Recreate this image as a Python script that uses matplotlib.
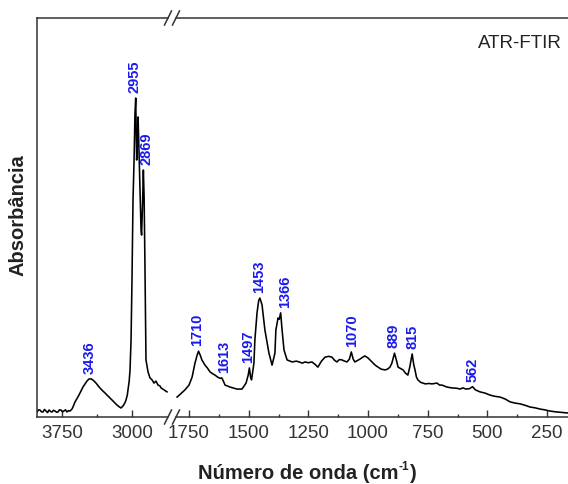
import numpy as np
import matplotlib
matplotlib.use("Agg")
import matplotlib.pyplot as plt
from matplotlib.ticker import MultipleLocator, FixedLocator
from matplotlib.lines import Line2D

plt.rcParams['font.family'] = ['Liberation Sans', 'DejaVu Sans']

# ---- spectrum, high-wavenumber segment (cm^-1, absorbance a.u.) ----
wn_high = [4018, 4000, 3986, 3970, 3954, 3938, 3921, 3905, 3889, 3873, 3857, 3841,
           3825, 3809, 3793, 3777, 3761, 3745, 3729, 3713, 3696, 3680, 3664, 3643,
           3627, 3611, 3590, 3568, 3547, 3525, 3503, 3482, 3461, 3436, 3410, 3386,
           3365, 3343, 3316, 3289, 3268, 3246, 3225, 3203, 3182, 3161, 3140, 3118,
           3096, 3075, 3064, 3050, 3043, 3030, 3021, 3010, 3000, 2989, 2978, 2968,
           2960, 2955, 2950, 2940, 2935, 2925, 2914, 2903, 2897, 2885, 2878, 2870,
           2862, 2855, 2850, 2828, 2807, 2785, 2764, 2743, 2721, 2700, 2689, 2657, 2625]
abs_high = [0.0125, 0.018, 0.0175, 0.013, 0.0125, 0.019, 0.015, 0.011, 0.0175, 0.014,
            0.0125, 0.017, 0.015, 0.012, 0.0125, 0.018, 0.0175, 0.013, 0.015, 0.018,
            0.0125, 0.016, 0.015, 0.020, 0.028, 0.0376, 0.046, 0.0551, 0.065, 0.0752,
            0.083, 0.0902, 0.0952, 0.0955, 0.091, 0.0852, 0.079, 0.0727, 0.066, 0.0602,
            0.055, 0.0501, 0.045, 0.0401, 0.035, 0.0301, 0.026, 0.0226, 0.0276, 0.036,
            0.0426, 0.055, 0.0677, 0.090, 0.1178, 0.193, 0.343, 0.544, 0.640, 0.760,
            0.7995, 0.720, 0.644, 0.700, 0.752, 0.669, 0.569, 0.470, 0.456, 0.550,
            0.619, 0.550, 0.400, 0.250, 0.143, 0.113, 0.098, 0.093, 0.085, 0.090,
            0.080, 0.078, 0.073, 0.068, 0.063]

# ---- spectrum, fingerprint segment ----
wn_low = [1800, 1785, 1767, 1750, 1737, 1725, 1716, 1710, 1703, 1696, 1683, 1672,
          1662, 1650, 1641, 1630, 1620, 1613, 1606, 1599, 1578, 1560, 1549, 1528,
          1511, 1502, 1497, 1492, 1488, 1478, 1474, 1465, 1458, 1453, 1444, 1432,
          1415, 1402, 1390, 1386, 1377, 1372, 1366, 1360, 1352, 1339, 1318, 1300,
          1289, 1275, 1264, 1250, 1235, 1222, 1210, 1195, 1180, 1165, 1151, 1140,
          1130, 1120, 1109, 1098, 1088, 1078, 1070, 1062, 1055, 1034, 1022, 1013,
          1000, 983, 970, 958, 945, 929, 918, 908, 900, 889, 880, 874, 865, 853,
          843, 833, 825, 815, 808, 803, 797, 791, 780, 770, 760, 745, 732, 711,
          700, 690, 669, 650, 627, 615, 602, 590, 575, 562, 550, 531, 510, 489,
          470, 447, 425, 405, 385, 363, 340, 321, 300, 280, 260, 238, 215, 196,
          175, 162]
abs_low = [0.050, 0.058, 0.068, 0.080, 0.100, 0.135, 0.155, 0.165, 0.155, 0.143,
           0.130, 0.122, 0.113, 0.108, 0.105, 0.100, 0.097, 0.098, 0.090, 0.080,
           0.075, 0.072, 0.070, 0.070, 0.085, 0.105, 0.123, 0.100, 0.093, 0.135,
           0.193, 0.261, 0.292, 0.298, 0.281, 0.218, 0.160, 0.130, 0.160, 0.218,
           0.248, 0.245, 0.261, 0.218, 0.168, 0.143, 0.138, 0.140, 0.138, 0.135,
           0.138, 0.136, 0.138, 0.132, 0.125, 0.140, 0.150, 0.152, 0.150, 0.142,
           0.138, 0.144, 0.143, 0.140, 0.138, 0.145, 0.163, 0.145, 0.138, 0.145,
           0.150, 0.153, 0.148, 0.138, 0.130, 0.125, 0.120, 0.118, 0.120, 0.125,
           0.135, 0.160, 0.140, 0.125, 0.122, 0.118, 0.110, 0.105, 0.125, 0.158,
           0.130, 0.118, 0.100, 0.093, 0.087, 0.085, 0.083, 0.084, 0.083, 0.085,
           0.080, 0.080, 0.075, 0.073, 0.072, 0.070, 0.073, 0.070, 0.071, 0.076,
           0.068, 0.063, 0.060, 0.055, 0.052, 0.050, 0.045, 0.038, 0.035, 0.033,
           0.029, 0.025, 0.023, 0.020, 0.018, 0.015, 0.013, 0.012, 0.011, 0.010]

# ---- peak labels ----
peaks_high = [3436, 2955, 2869]
peaks_low = [1710, 1613, 1497, 1453, 1366, 1070, 889, 815, 562]

W, H = 568, 484
fig = plt.figure(figsize=(W / 100, H / 100), dpi=100)

def fx(px):
    return px / W

def fy(py):
    return 1 - py / H

ax_top, ax_bot = 18, 417
axL = fig.add_axes([fx(37), fy(ax_bot), fx(168) - fx(37), (ax_bot - ax_top) / H])
axR = fig.add_axes([fx(176), fy(ax_bot), 1 - fx(176), (ax_bot - ax_top) / H])

spine_col = '#333333'
for ax in (axL, axR):
    ax.set_ylim(0, 1.0)
    ax.set_yticks([])
    for s in ax.spines.values():
        s.set_color(spine_col)
        s.set_linewidth(1.1)
    ax.tick_params(axis='x', which='both', direction='in', top=False,
                   colors=spine_col, labelsize=13.5, pad=6)
    ax.tick_params(axis='x', which='major', length=5, width=1.0)
    ax.tick_params(axis='x', which='minor', length=2.5, width=1.0)

axL.spines['right'].set_visible(False)
axR.spines['left'].set_visible(False)
axR.spines['right'].set_visible(False)

axL.plot(wn_high, abs_high, color='black', lw=1.15)
axR.plot(wn_low, abs_low, color='black', lw=1.15)

axL.set_xlim(4018, 2614)
axR.set_xlim(1804.5, 162)
axL.xaxis.set_major_locator(FixedLocator([3750, 3000]))
axL.xaxis.set_minor_locator(FixedLocator([3375]))
axR.xaxis.set_major_locator(MultipleLocator(250))
axR.xaxis.set_minor_locator(MultipleLocator(125))

label_col = '#1a1aee'
offsets_high = {3436: -1, 2955: -1, 2869: 2}
offsets_low = {1710: -1, 1613: 1.5, 1497: -1, 1453: -0.5, 1366: 3, 1070: 0.5,
               889: -1, 815: 0.5, 562: 0}

def label_peaks(ax, wn, ab, peaks, offs):
    wn_a = np.asarray(wn)
    ab_a = np.asarray(ab)
    for p in peaks:
        m = np.abs(wn_a - p) <= 12
        top = ab_a[m].max()
        ax.annotate(str(p), xy=(p, top), xytext=(offs[p], 3.5),
                    textcoords='offset points', rotation=90,
                    ha='center', va='bottom', color=label_col,
                    fontsize=10.5, fontweight='bold')

label_peaks(axL, wn_high, abs_high, peaks_high, offsets_high)
label_peaks(axR, wn_low, abs_low, peaks_low, offsets_low)

# axis break marks
for cx in (168, 176):
    for cy in (ax_top, ax_bot):
        fig.add_artist(Line2D([fx(cx - 3.5), fx(cx + 3.5)], [fy(cy + 7), fy(cy - 7)],
                              color=spine_col, lw=1.1))

txt_col = '#222222'
t1 = fig.text(fx(398), fy(479), 'Número de onda (cm', ha='right', va='baseline',
              fontsize=14.5, fontweight='bold', color=txt_col)
t2 = axR.annotate('-1', xy=(1, 1), xycoords=t1, xytext=(0.5, 2.5),
                  textcoords='offset points', ha='left', va='top',
                  fontsize=8.5, fontweight='bold', color=txt_col,
                  annotation_clip=False)
t3 = axR.annotate(')', xy=(1, 0), xycoords=(t2, t1), xytext=(0.5, 0),
                  textcoords='offset points', ha='left', va='bottom',
                  fontsize=14.5, fontweight='bold', color=txt_col,
                  annotation_clip=False)
fig.text(fx(18), fy(215), 'Absorbância', rotation=90, ha='center', va='center',
         fontsize=14.5, fontweight='bold', color=txt_col)
fig.text(fx(562), fy(43), 'ATR-FTIR', ha='right', va='center', fontsize=13.5,
         color=txt_col)

fig.savefig('out.png', dpi=100)
